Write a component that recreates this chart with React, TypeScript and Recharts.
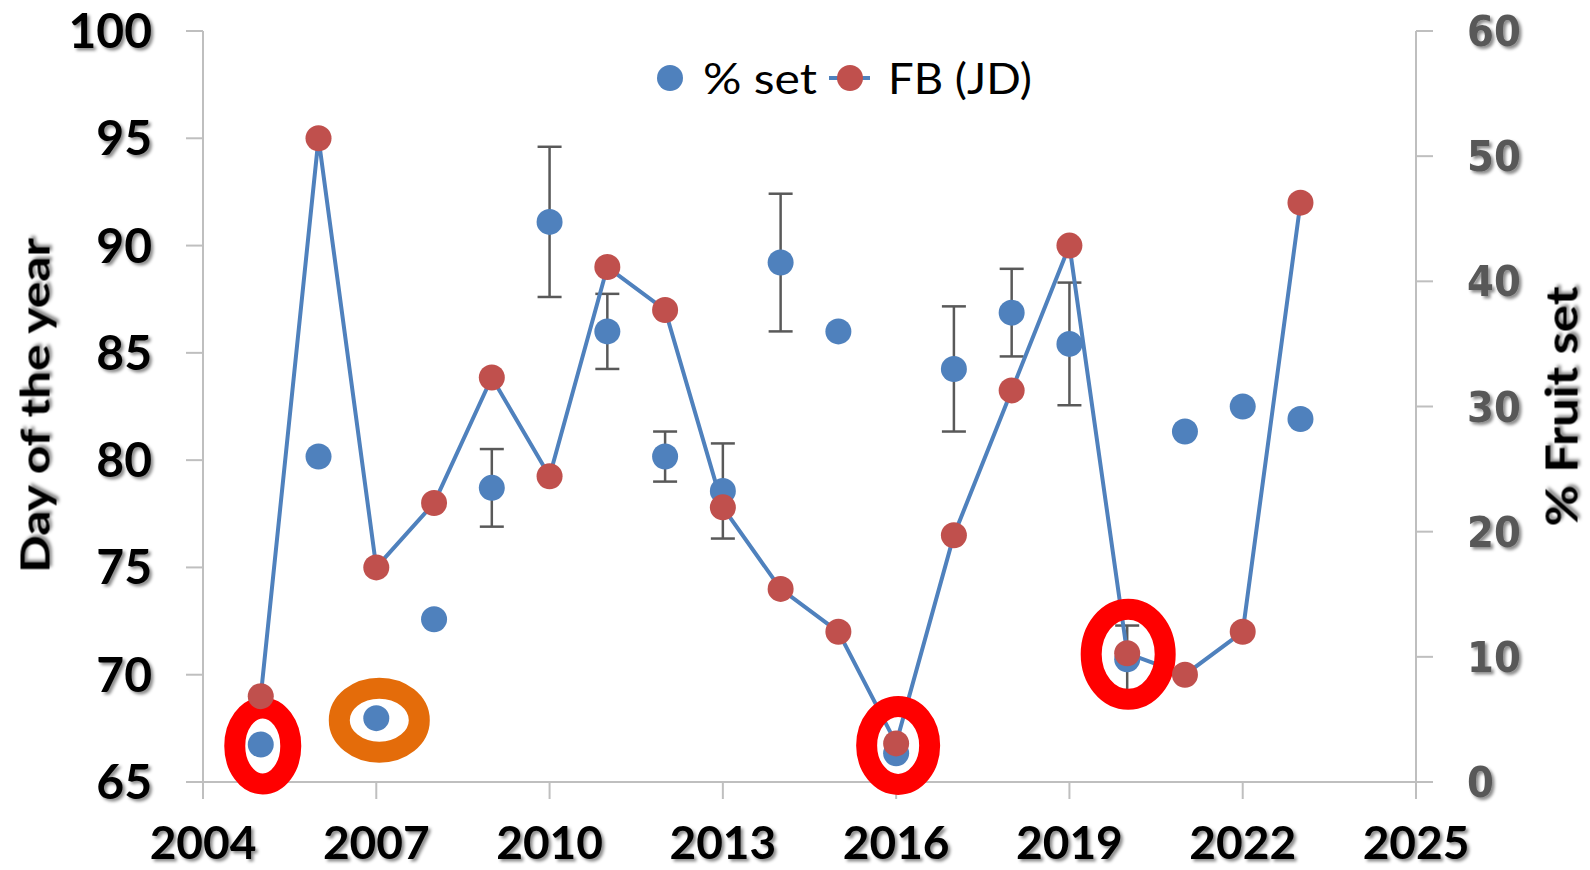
import React from 'react';
import { ComposedChart, Line, Scatter, XAxis, YAxis, ErrorBar, ReferenceDot } from 'recharts';

const years = [2005, 2006, 2007, 2008, 2009, 2010, 2011, 2012, 2013, 2014, 2015, 2016, 2017, 2018, 2019, 2020, 2021, 2022, 2023];
const fbJD = [69, 95, 75, 78, 83.85, 79.25, 89, 87, 77.8, 74, 72, 66.8, 76.5, 83.25, 90, 71, 70, 72, 92];
const pctSet = [3.0, 26.0, 5.1, 13.0, 23.5, 44.75, 36.0, 26.0, 23.25, 41.5, 36.0, 2.3, 33.0, 37.5, 35.0, 9.8, 28.0, 30.0, 29.0];
const pctSetErr = [null, null, null, null, 3.1, 6.0, 3.0, 2.0, 3.8, 5.5, null, null, 5.0, 3.5, 4.9, 2.7, null, null, null];

const xTicks = [2004, 2007, 2010, 2013, 2016, 2019, 2022, 2025];
const leftTicks = [65, 70, 75, 80, 85, 90, 95, 100];
const rightTicks = [0, 10, 20, 30, 40, 50, 60];

const seriesNames = ['% set', 'FB (JD)'];
const axisTitles = ['Day of the year', '% Fruit set'];

const rows = years.map((year, i) => ({ year, fb: fbJD[i], set: pctSet[i], err: pctSetErr[i] }));

const BLUE = '#4F81BD';
const RED = '#C0504D';
const AXIS = '#BFBFBF';

const tickFont = 'Lato, "Noto Sans", sans-serif';

const LeftTick = (p: any) => (
  <text x={p.x} y={p.y + 17} textAnchor="end" fontFamily={tickFont} fontWeight={700} fontSize={48} fill="#000" filter="url(#txtShadow)">
    {p.payload.value}
  </text>
);

const RightTick = (p: any) => (
  <text x={p.x} y={p.y + 15} textAnchor="start" fontFamily='"DejaVu Sans Condensed", "DejaVu Sans", sans-serif' fontWeight={700} fontSize={43} fill="#595959" filter="url(#txtShadow)">
    {p.payload.value}
  </text>
);

const BottomTick = (p: any) => (
  <text x={p.x} y={p.y + 60} textAnchor="middle" fontFamily={tickFont} fontWeight={700} fontSize={46} fill="#000" filter="url(#txtShadow)">
    {p.payload.value}
  </text>
);

const ring = (rx: number, ry: number, color: string, dx: number, dy: number) => (p: any) => (
  <ellipse cx={p.cx + dx} cy={p.cy + dy} rx={rx} ry={ry} fill="none" stroke={color} strokeWidth={21} />
);

const LeftTitle = (p: any) => {
  const vb = p.viewBox;
  const cx = vb.x + 49;
  const cy = vb.y + vb.height / 2 - 1;
  return (
    <text x={cx} y={cy} transform={`rotate(-90 ${cx} ${cy})`} textAnchor="middle" fontFamily={tickFont} fontWeight={700} fontSize={40} fill="#000" textLength={335} lengthAdjust="spacingAndGlyphs" filter="url(#txtShadow)">
      {axisTitles[0]}
    </text>
  );
};

const RightTitle = (p: any) => {
  const vb = p.viewBox;
  const cx = vb.x + 161;
  const cy = vb.y + vb.height / 2;
  return (
    <text x={cx} y={cy} transform={`rotate(-90 ${cx} ${cy})`} textAnchor="middle" fontFamily={tickFont} fontWeight={700} fontSize={44} fill="#000" textLength={240} lengthAdjust="spacingAndGlyphs" filter="url(#txtShadow)">
      {axisTitles[1]}
    </text>
  );
};

const dotShape = (p: any) => <circle cx={p.cx} cy={p.cy} r={13} fill={BLUE} />;

export default function App() {
  return (
    <div style={{ position: 'absolute', left: 0, top: 0, width: 1590, height: 870, background: '#fff' }}>
      <svg width={0} height={0} style={{ position: 'absolute' }}>
        <defs>
          <filter id="txtShadow" x="-20%" y="-20%" width="140%" height="150%">
            <feDropShadow dx={2.5} dy={2.5} stdDeviation={1.6} floodColor="#000" floodOpacity={0.45} />
          </filter>
        </defs>
      </svg>
      <ComposedChart width={1590} height={870} data={rows} margin={{ top: 31, right: 0, bottom: 0, left: 0 }}>
        <XAxis
          dataKey="year"
          type="number"
          domain={[2004, 2025]}
          ticks={xTicks}
          height={88}
          axisLine={{ stroke: AXIS, strokeWidth: 2 }}
          tickLine={{ stroke: AXIS, strokeWidth: 2 }}
          tickSize={17}
          tickMargin={0}
          tick={<BottomTick />}
          interval={0}
        />
        <YAxis
          yAxisId="left"
          orientation="left"
          width={203}
          domain={[65, 100]}
          ticks={leftTicks}
          axisLine={{ stroke: AXIS, strokeWidth: 2 }}
          tickLine={{ stroke: AXIS, strokeWidth: 2 }}
          tickSize={17}
          tickMargin={34}
          tick={<LeftTick />}
          interval={0}
          label={{ content: <LeftTitle /> }}
        />
        <YAxis
          yAxisId="right"
          orientation="right"
          width={174}
          domain={[0, 60]}
          ticks={rightTicks}
          axisLine={{ stroke: AXIS, strokeWidth: 2 }}
          tickLine={{ stroke: AXIS, strokeWidth: 2 }}
          tickSize={17}
          tickMargin={34}
          tick={<RightTick />}
          interval={0}
          label={{ content: <RightTitle /> }}
        />
        <Scatter name={seriesNames[0]} yAxisId="right" dataKey="set" fill={BLUE} shape={dotShape} isAnimationActive={false}>
          <ErrorBar dataKey="err" direction="y" width={12} strokeWidth={2.5} stroke="#595959" />
        </Scatter>
        <Line
          name={seriesNames[1]}
          yAxisId="left"
          dataKey="fb"
          type="linear"
          stroke={BLUE}
          strokeWidth={4}
          dot={{ r: 13, fill: RED, stroke: RED, strokeWidth: 0 }}
          activeDot={false}
          isAnimationActive={false}
        />
        <ReferenceDot yAxisId="right" x={years[0]} y={pctSet[0]} r={0} ifOverflow="visible" shape={ring(28, 38, '#FF0000', 2, 1.5)} />
        <ReferenceDot yAxisId="right" x={years[2]} y={pctSet[2]} r={0} ifOverflow="visible" shape={ring(40, 32, '#E46C0A', 3, 2)} />
        <ReferenceDot yAxisId="left" x={years[11]} y={fbJD[11]} r={0} ifOverflow="visible" shape={ring(31.5, 39, '#FF0000', 2, 2)} />
        <ReferenceDot yAxisId="left" x={years[15]} y={fbJD[15]} r={0} ifOverflow="visible" shape={ring(37, 45, '#FF0000', 1, 1)} />
      </ComposedChart>
      <svg width={1590} height={130} style={{ position: 'absolute', left: 0, top: 0, pointerEvents: 'none' }}>
        <circle cx={670} cy={78} r={13} fill={BLUE} />
        <text x={703} y={94} fontFamily={tickFont} fontSize={42} fill="#000" textLength={114} lengthAdjust="spacingAndGlyphs">
          {seriesNames[0]}
        </text>
        <line x1={829} y1={78} x2={870} y2={78} stroke={BLUE} strokeWidth={4} />
        <circle cx={850} cy={78} r={13} fill={RED} />
        <text x={888} y={94} fontFamily={tickFont} fontSize={42} fill="#000" textLength={144} lengthAdjust="spacingAndGlyphs">
          {seriesNames[1]}
        </text>
      </svg>
    </div>
  );
}
